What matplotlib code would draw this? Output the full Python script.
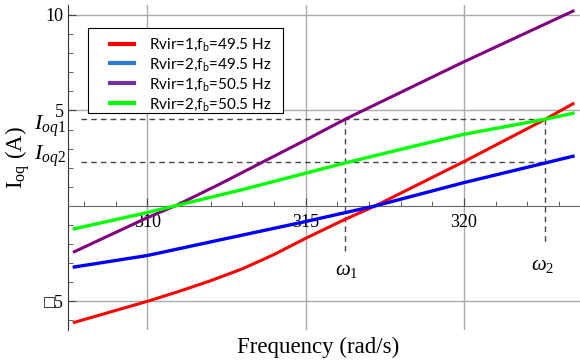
import matplotlib
matplotlib.use("Agg")
import matplotlib.pyplot as plt
from matplotlib.lines import Line2D
from matplotlib.patches import Rectangle
from matplotlib.ticker import FixedLocator, MultipleLocator

plt.rcParams["font.family"] = ["Liberation Serif", "DejaVu Sans"]
plt.rcParams["mathtext.fontset"] = "custom"
plt.rcParams["mathtext.rm"] = "Liberation Serif"
plt.rcParams["mathtext.it"] = "Liberation Serif:italic"
plt.rcParams["mathtext.sf"] = "Lato"

# ── Data ───────────────────────────────────────────────────────────────────
red_w = [307.7, 310, 311, 312, 313, 314, 315, 316.25, 317.2, 320, 322.57, 323.44]
red_i = [-6.1, -5.0, -4.48, -3.92, -3.3, -2.55, -1.7, -0.7, 0.0, 2.32, 4.54, 5.35]

blue_w = [307.7, 310, 312.3, 315, 317.2, 320, 322.57, 323.44]
blue_i = [-3.2, -2.6, -1.78, -0.82, 0.0, 1.22, 2.25, 2.6]

purple_w = [307.7, 310, 310.95, 312.3, 315, 316.25, 320, 323.44]
purple_i = [-2.4, -0.62, 0.05, 1.15, 3.45, 4.54, 7.55, 10.2]

green_w = [307.7, 310, 311, 313, 316.25, 318.6, 320, 322.57, 323.44]
green_i = [-1.2, -0.35, 0.05, 0.85, 2.25, 3.2, 3.75, 4.54, 4.85]

legend_labels = ["Rvir=1,f$_\\mathsf{b}$=49.5 Hz", "Rvir=2,f$_\\mathsf{b}$=49.5 Hz",
                 "Rvir=1,f$_\\mathsf{b}$=50.5 Hz", "Rvir=2,f$_\\mathsf{b}$=50.5 Hz"]
legend_colors = ["#ff0000", "#2e7ad6", "#7030a0", "#00ff00"]

w1, w2 = 316.24, 322.57
ioq1, ioq2 = 4.54, 2.3

x_major = [310, 315, 320]
y_major = [-5, 5, 10]
y_labels = ["\u25a15", "5", "10"]

# ── Figure ─────────────────────────────────────────────────────────────────
fig = plt.figure(figsize=(5.8, 3.62), dpi=100)
ax = fig.add_axes([68 / 580, 1 - 330 / 362, 1 - 68 / 580, 325 / 362])
ax.set_xlim(307.5, 323.66)
ax.set_ylim(-6.5, 10.52)

for s in ["top", "right"]:
    ax.spines[s].set_visible(False)
ax.spines["bottom"].set_position(("data", 0))
ax.spines["bottom"].set_color("#666666")
ax.spines["left"].set_color("#333333")

ax.xaxis.set_major_locator(FixedLocator(x_major))
ax.xaxis.set_minor_locator(MultipleLocator(1))
ax.yaxis.set_major_locator(FixedLocator(y_major))
ax.yaxis.set_minor_locator(MultipleLocator(1))
ax.set_yticklabels(y_labels)
ax.tick_params(axis="both", which="both", direction="in", colors="#444444", labelcolor="black")
ax.tick_params(axis="both", which="major", length=6, labelsize=13)
ax.tick_params(axis="both", which="minor", length=3.5)
ax.tick_params(axis="x", pad=6)
ax.tick_params(axis="y", pad=3)
ax.grid(True, which="major", color="#aaaaaa", lw=1)

ax.plot(red_w, red_i, color="#ff0000", lw=2.2, zorder=3)
ax.plot(blue_w, blue_i, color="#0000ff", lw=2.4, zorder=3)
ax.plot(purple_w, purple_i, color="#800080", lw=2.2, zorder=3)
ax.plot(green_w, green_i, color="#00ff00", lw=2.4, zorder=3)

# dashed guide lines
dash = dict(color="#444444", lw=1, ls=(0, (4, 3)), zorder=2)
ax.plot([307.9, w2], [ioq1, ioq1], **dash)
ax.plot([307.9, w2], [ioq2, ioq2], **dash)
ax.plot([w1, w1], [ioq1, -2.4], **dash)
ax.plot([w2, w2], [ioq1, -1.9], **dash)

ax.text(w1 + 0.05, -3.4, r"$\omega_1$", fontsize=15, ha="center", va="center")
ax.text(w2 - 0.1, -3.1, r"$\omega_2$", fontsize=15, ha="center", va="center")
ax.text(307.45, 4.15, r"$I_{oq1}$", fontsize=16, ha="right", va="center", clip_on=False)
ax.text(307.45, 2.6, r"$I_{oq2}$", fontsize=16, ha="right", va="center", clip_on=False)

fig.text(318 / 580, 1 - 347 / 362, "Frequency (rad/s)", fontsize=16.5, ha="center", va="center")
fig.text(18 / 580, 1 - 158 / 362, "I$_\\mathregular{oq}$ (A)", fontsize=16.5,
         rotation=90, ha="center", va="center")

# legend box drawn by hand (wider side padding than matplotlib's symmetric borderpad)
box = Rectangle((88 / 580, 1 - 113 / 362), 195 / 580, 85 / 362, transform=fig.transFigure,
                facecolor="white", edgecolor="black", lw=0.8, zorder=4, clip_on=False)
ax.add_patch(box)
handles = [Line2D([], [], color=c, lw=3) for c in legend_colors]
leg = ax.legend(handles, legend_labels, loc="upper left",
                bbox_to_anchor=(96 / 580, 1 - 23 / 362), bbox_transform=fig.transFigure,
                prop={"family": "Lato", "size": 11}, frameon=False,
                handlelength=1.6, borderpad=0.4, labelspacing=0.24, handletextpad=1.0)
leg.set_zorder(5)

fig.savefig("out.png", dpi=100)
